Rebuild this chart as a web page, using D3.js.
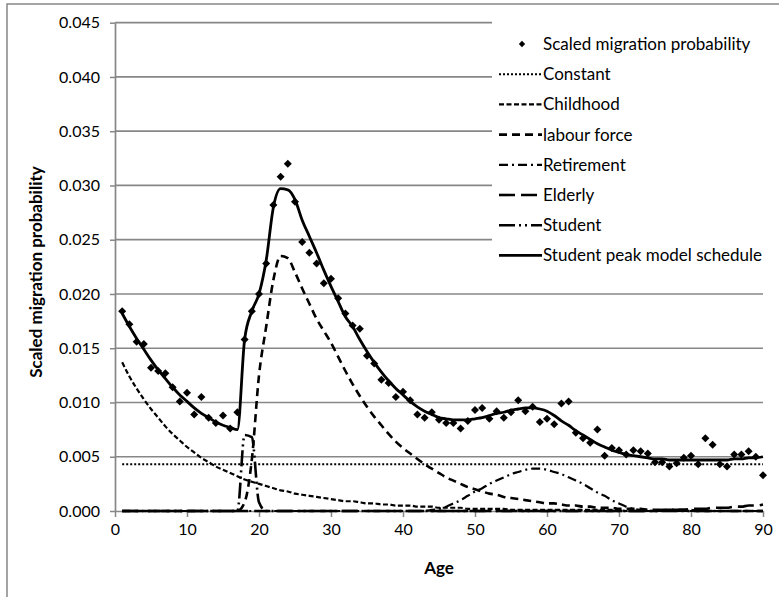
<!DOCTYPE html>
<html>
<head>
<meta charset="utf-8">
<script src="https://cdn.jsdelivr.net/npm/d3@7"></script>
<style>
	body { margin: 0; background: #fff; }
	svg text { font-family: Lato, "Open Sans", sans-serif; fill: #000; }
</style>
</head>
<body>
<div id="chart"></div>
<script>

//ages 1..90 on the x axis
var ages = d3.range(1, 91);

var xTicks = [0, 10, 20, 30, 40, 50, 60, 70, 80, 90];
var yTicks = [0, 0.005, 0.010, 0.015, 0.020, 0.025, 0.030, 0.035, 0.040, 0.045];

var observed = [
	0.0184,0.0172,0.0156,0.0154,0.0132,0.0129,0.0127,0.0114,0.0101,0.0109,
	0.0089,0.0105,0.0086,0.0081,0.0088,0.0076,0.0091,0.0158,0.0184,0.0200,
	0.0228,0.0282,0.0308,0.0320,0.0285,0.0248,0.0238,0.0228,0.0210,0.0214,
	0.0196,0.0182,0.0171,0.0168,0.0143,0.0136,0.0121,0.0118,0.0105,0.0110,
	0.0102,0.0089,0.0086,0.0091,0.0084,0.0081,0.0081,0.0076,0.0083,0.0093,
	0.0095,0.0085,0.0092,0.0086,0.0091,0.0102,0.0092,0.0096,0.0082,0.0085,
	0.0080,0.0099,0.0101,0.0072,0.0067,0.0063,0.0075,0.0051,0.0058,0.0056,
	0.0052,0.0056,0.0055,0.0053,0.0045,0.0045,0.0041,0.0044,0.0049,0.0051,
	0.0043,0.0067,0.0061,0.0043,0.0041,0.0052,0.0052,0.0055,0.0050,0.0033
];

var constant = [
	0.0043,0.0043,0.0043,0.0043,0.0043,0.0043,0.0043,0.0043,0.0043,0.0043,
	0.0043,0.0043,0.0043,0.0043,0.0043,0.0043,0.0043,0.0043,0.0043,0.0043,
	0.0043,0.0043,0.0043,0.0043,0.0043,0.0043,0.0043,0.0043,0.0043,0.0043,
	0.0043,0.0043,0.0043,0.0043,0.0043,0.0043,0.0043,0.0043,0.0043,0.0043,
	0.0043,0.0043,0.0043,0.0043,0.0043,0.0043,0.0043,0.0043,0.0043,0.0043,
	0.0043,0.0043,0.0043,0.0043,0.0043,0.0043,0.0043,0.0043,0.0043,0.0043,
	0.0043,0.0043,0.0043,0.0043,0.0043,0.0043,0.0043,0.0043,0.0043,0.0043,
	0.0043,0.0043,0.0043,0.0043,0.0043,0.0043,0.0043,0.0043,0.0043,0.0043,
	0.0043,0.0043,0.0043,0.0043,0.0043,0.0043,0.0043,0.0043,0.0043,0.0043
];

var childhood = [
	0.0137,0.0124,0.0113,0.0103,0.0094,0.0086,0.0078,0.0071,0.0065,0.0059,
	0.0054,0.0049,0.0045,0.0041,0.0038,0.0035,0.0032,0.0029,0.0027,0.0025,
	0.0023,0.0021,0.0019,0.0018,0.0016,0.0015,0.0014,0.0013,0.0012,0.0011,
	0.0010,0.0009,0.0009,0.0008,0.0007,0.0007,0.0006,0.0006,0.0005,0.0005,
	0.0005,0.0004,0.0004,0.0004,0.0003,0.0003,0.0003,0.0003,0.0002,0.0002,
	0.0002,0.0002,0.0002,0.0002,0.0001,0.0001,0.0001,0.0001,0.0001,0.0001,
	0.0001,0.0001,0.0001,0.0001,0.0001,0.0001,0.0001,0.0001,0.0001,0.0001,
	0,0,0,0,0,0,0,0,0,0,
	0,0,0,0,0,0,0,0,0,0
];

var labour = [
	0,0,0,0,0,0,0,0,0,0,
	0,0,0,0,0,0,0.0000,0.0008,0.0047,0.0125,
	0.0170,0.0213,0.0235,0.0233,0.0220,0.0205,0.0191,0.0177,0.0166,0.0155,
	0.0142,0.0129,0.0117,0.0106,0.0096,0.0087,0.0079,0.0071,0.0064,0.0058,
	0.0053,0.0048,0.0043,0.0039,0.0035,0.0031,0.0028,0.0025,0.0022,0.0020,
	0.0018,0.0016,0.0015,0.0013,0.0012,0.0011,0.0010,0.0009,0.0008,0.0007,
	0.0007,0.0006,0.0005,0.0005,0.0004,0.0004,0.0003,0.0003,0.0003,0.0002,
	0.0002,0.0002,0.0002,0.0001,0.0001,0.0001,0.0001,0.0001,0.0001,0.0001,
	0,0,0,0,0,0,0,0,0,0
];

var retirement = [
	0,0,0,0,0,0,0,0,0,0,
	0,0,0,0,0,0,0,0,0,0,
	0,0,0,0,0,0,0,0,0,0,
	0,0,0,0,0,0,0,0,0,0,
	0,0,0,0.0001,0.0002,0.0004,0.0007,0.0010,0.0014,0.0018,
	0.0021,0.0025,0.0028,0.0031,0.0034,0.0036,0.0038,0.0039,0.0039,0.0038,
	0.0036,0.0034,0.0031,0.0028,0.0025,0.0021,0.0017,0.0014,0.0010,0.0007,
	0.0004,0.0002,0.0001,0,0,0,0,0,0,0,
	0,0,0,0,0,0,0,0,0,0
];

var elderly = [
	0,0,0,0,0,0,0,0,0,0,
	0,0,0,0,0,0,0,0,0,0,
	0,0,0,0,0,0,0,0,0,0,
	0,0,0,0,0,0,0,0,0,0,
	0,0,0,0,0,0,0,0,0,0,
	0,0,0,0,0,0,0,0,0,0,
	0,0,0,0,0,0,0,0,0,0,
	0,0,0,0,0,0.0001,0.0001,0.0001,0.0001,0.0002,
	0.0002,0.0002,0.0003,0.0003,0.0003,0.0004,0.0004,0.0005,0.0005,0.0006
];

var student = [
	0,0,0,0,0,0,0,0,0,0,
	0,0,0,0,0,0,0.0000,0.0070,0.0068,0.0008,
	0,0,0,0,0,0,0,0,0,0,
	0,0,0,0,0,0,0,0,0,0,
	0,0,0,0,0,0,0,0,0,0,
	0,0,0,0,0,0,0,0,0,0,
	0,0,0,0,0,0,0,0,0,0,
	0,0,0,0,0,0,0,0,0,0,
	0,0,0,0,0,0,0,0,0,0
];

var model = [
	0.0182,0.0170,0.0159,0.0149,0.0139,0.0130,0.0122,0.0114,0.0107,0.0101,
	0.0095,0.0090,0.0086,0.0082,0.0079,0.0077,0.0075,0.0158,0.0184,0.0200,
	0.0231,0.0280,0.0297,0.0296,0.0287,0.0268,0.0253,0.0238,0.0222,0.0207,
	0.0193,0.0179,0.0170,0.0158,0.0147,0.0137,0.0128,0.0120,0.0113,0.0107,
	0.0101,0.0096,0.0092,0.0089,0.0086,0.0085,0.0084,0.0084,0.0084,0.0085,
	0.0086,0.0088,0.0090,0.0091,0.0093,0.0094,0.0095,0.0095,0.0094,0.0092,
	0.0088,0.0083,0.0079,0.0074,0.0070,0.0066,0.0062,0.0059,0.0056,0.0054,
	0.0052,0.0051,0.0050,0.0049,0.0048,0.0048,0.0047,0.0047,0.0047,0.0047,
	0.0047,0.0047,0.0047,0.0047,0.0047,0.0048,0.0048,0.0049,0.0049,0.0050
];

//line series, in the order Excel draws and lists them
var lineSeries = [
	{name: "Constant", values: constant, dash: "2,2", width: 2},
	{name: "Childhood", values: childhood, dash: "5,2.5", width: 2.2},
	{name: "labour force", values: labour, dash: "8,5", width: 2.6},
	{name: "Retirement", values: retirement, dash: "9,4,2,4", width: 2.2},
	{name: "Elderly", values: elderly, dash: "16,6", width: 2.6},
	{name: "Student", values: student, dash: "16,4,2,4,2,4", width: 2.6},
	{name: "Student peak model schedule", values: model, dash: null, width: 2.8}
];

var W = 779, H = 597;
var grey = "#878787";

var svg = d3.select("#chart").append("svg")
	.attr("width", W)
	.attr("height", H);

//chart area border (runs off the right and bottom of the picture)
svg.append("rect")
	.attr("x", 7).attr("y", 4)
	.attr("width", W + 20).attr("height", H + 20)
	.attr("fill", "#fff")
	.attr("stroke", grey)
	.attr("stroke-width", 1.5);

var x = d3.scaleLinear().domain([0, 90]).range([115, 763]);
var y = d3.scaleLinear().domain([0, 0.045]).range([511, 22.7]);

//horizontal gridlines
svg.append("g")
	.selectAll("line")
	.data(yTicks.slice(1))
	.enter()
		.append("line")
			.attr("x1", x(0))
			.attr("x2", x(90))
			.attr("y1", function(d){return y(d);})
			.attr("y2", function(d){return y(d);})
			.attr("stroke", grey)
			.attr("stroke-width", 1.7);

var yAxis = svg.append("g")
	.attr("transform", "translate(" + x(0) + ",0)")
	.call(d3.axisLeft(y).tickValues(yTicks).tickFormat(d3.format(".3f")).tickSizeInner(5).tickSizeOuter(0).tickPadding(10));

var xAxis = svg.append("g")
	.attr("transform", "translate(0," + y(0) + ")")
	.call(d3.axisBottom(x).tickValues(xTicks).tickSizeInner(6).tickSizeOuter(0).tickPadding(7));

[yAxis, xAxis].forEach(function(g)
	{
		g.select(".domain").attr("stroke", grey).attr("stroke-width", 1.7);
		g.selectAll(".tick line").attr("stroke", grey).attr("stroke-width", 1.5);
		g.selectAll(".tick text").style("font-size", "16px").style("font-family", "Lato, sans-serif");
	}
);

//axis titles
svg.append("text")
	.attr("transform", "translate(42,272) rotate(-90)")
	.attr("text-anchor", "middle")
	.style("font-size", "17px")
	.style("font-weight", "bold")
	.text("Scaled migration probability");

svg.append("text")
	.attr("x", (x(0) + x(90)) / 2)
	.attr("y", 574)
	.attr("text-anchor", "middle")
	.style("font-size", "17px")
	.style("font-weight", "bold")
	.text("Age");

//legend background hides the gridlines behind it
svg.append("rect")
	.attr("x", 492).attr("y", 14)
	.attr("width", 285).attr("height", 262)
	.attr("fill", "#fff");

var line = d3.line()
	.x(function(d, i){return x(ages[i]);})
	.y(function(d){return y(d);})
	.curve(d3.curveMonotoneX);

var diamond = d3.symbol().type(d3.symbolSquare).size(32);

//observed points go first, the fitted lines are drawn over them
svg.append("g")
	.selectAll("path")
	.data(observed)
	.enter()
		.append("path")
			.attr("d", diamond)
			.attr("transform", function(d, i){return "translate(" + x(ages[i]) + "," + y(d) + ") rotate(45)";})
			.attr("fill", "#000");

svg.append("g")
	.selectAll("path")
	.data(lineSeries)
	.enter()
		.append("path")
			.attr("d", function(d){return line(d.values);})
			.attr("fill", "none")
			.attr("stroke", "#000")
			.attr("stroke-width", function(d){return d.width;})
			.attr("stroke-dasharray", function(d){return d.dash;});

//legend
var legend = svg.append("g");
var legendTop = 44, legendStep = 30.2;

legend.append("path")
	.attr("d", d3.symbol().type(d3.symbolSquare).size(20))
	.attr("transform", "translate(522," + legendTop + ") rotate(45)")
	.attr("fill", "#000");

legend.append("text")
	.attr("x", 543)
	.attr("y", legendTop)
	.attr("dy", "0.35em")
	.style("font-size", "17px")
	.text("Scaled migration probability");

var items = legend.selectAll(".item")
	.data(lineSeries)
	.enter()
		.append("g")
			.attr("class", "item")
			.attr("transform", function(d, i){return "translate(0," + (legendTop + (i + 1) * legendStep) + ")";});

items.append("line")
	.attr("x1", 499).attr("x2", 542)
	.attr("stroke", "#000")
	.attr("stroke-width", function(d){return d.width;})
	.attr("stroke-dasharray", function(d){return d.dash;});

items.append("text")
	.attr("x", 543)
	.attr("dy", "0.35em")
	.style("font-size", "17px")
	.text(function(d){return d.name;});

</script>
</body>
</html>
